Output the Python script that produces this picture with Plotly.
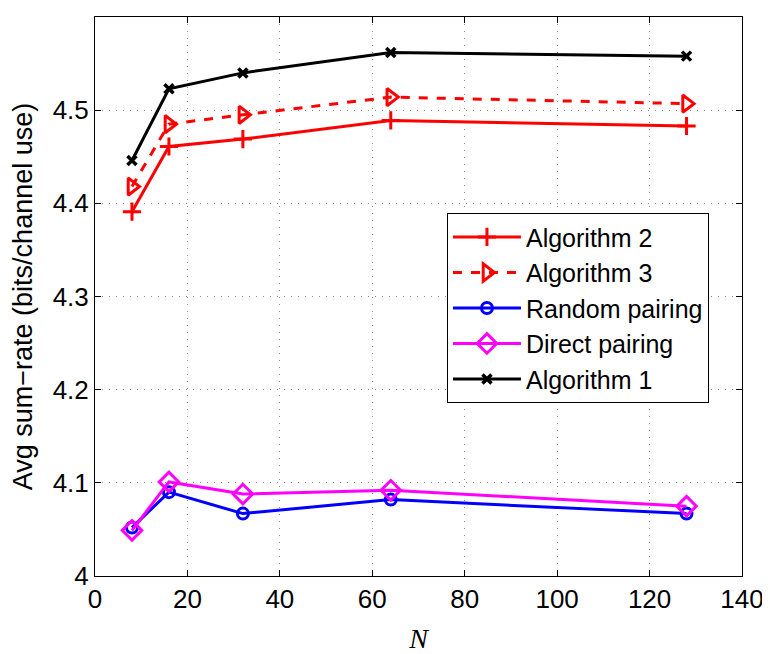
import plotly.graph_objects as go

N = [8, 16, 32, 64, 128]
alg2 = [4.391, 4.461, 4.469, 4.489, 4.483]
alg3 = [4.418, 4.485, 4.495, 4.514, 4.507]
random_pairing = [4.052, 4.090, 4.067, 4.082, 4.067]
direct_pairing = [4.049, 4.101, 4.088, 4.092, 4.075]
alg1 = [4.446, 4.523, 4.540, 4.562, 4.558]

x_ticks = [0, 20, 40, 60, 80, 100, 120, 140]
y_ticks = [4.0, 4.1, 4.2, 4.3, 4.4, 4.5, 4.6]
y_tick_labels = ["4", "4.1", "4.2", "4.3", "4.4", "4.5", "4.6"]

fig = go.Figure()
fig.add_trace(go.Scatter(x=N, y=alg2, name="Algorithm 2", mode="lines+markers",
                         line=dict(color="#ff0000", width=3),
                         marker=dict(symbol="cross-thin-open", size=13, line=dict(color="#ff0000", width=3))))
fig.add_trace(go.Scatter(x=N, y=alg3, name="Algorithm 3", mode="lines+markers",
                         line=dict(color="#ff0000", width=3, dash="dash"),
                         marker=dict(symbol="triangle-right-open", size=15, line=dict(color="#ff0000", width=3))))
fig.add_trace(go.Scatter(x=N, y=random_pairing, name="Random pairing", mode="lines+markers",
                         line=dict(color="#0000ff", width=3),
                         marker=dict(symbol="circle-open", size=11, line=dict(color="#0000ff", width=3))))
fig.add_trace(go.Scatter(x=N, y=direct_pairing, name="Direct pairing", mode="lines+markers",
                         line=dict(color="#ff00ff", width=3),
                         marker=dict(symbol="diamond-open", size=15, line=dict(color="#ff00ff", width=3))))
fig.add_trace(go.Scatter(x=N, y=alg1, name="Algorithm 1", mode="lines+markers",
                         line=dict(color="#000000", width=3),
                         marker=dict(symbol="x-thin-open", size=9, line=dict(color="#000000", width=3.5))))

axis_common = dict(
    showline=True, linecolor="black", linewidth=1, mirror="ticks",
    ticks="inside", ticklen=6, tickcolor="black",
    showgrid=True, gridcolor="#8c8c8c", griddash="1px,6px", gridwidth=1,
    zeroline=False, automargin=False,
    tickfont=dict(family="Liberation Sans, Arial, sans-serif", size=26, color="black"),
)

fig.update_xaxes(range=[0, 140], tickvals=x_ticks, **axis_common,
                 title=dict(text="<i>N</i>", font=dict(family="Liberation Serif, Times New Roman, serif", size=28, color="black")))
fig.update_yaxes(range=[4.0, 4.6], tickvals=y_ticks, ticktext=y_tick_labels, **axis_common,
                 title=dict(text="Avg sum\u2212rate (bits/channel use)", font=dict(family="Liberation Sans, Arial, sans-serif", size=27, color="black")))

fig.update_layout(
    width=762, height=646,
    margin=dict(l=87, r=28, t=9, b=78),
    paper_bgcolor="white", plot_bgcolor="white",
    legend=dict(x=0.544, y=0.649, xanchor="left", yanchor="top",
                bgcolor="white", bordercolor="black", borderwidth=1,
                font=dict(family="Liberation Sans, Arial, sans-serif", size=25, color="black"),
                itemwidth=68, tracegroupgap=0),
    showlegend=True,
)

fig.write_html("out.html")
